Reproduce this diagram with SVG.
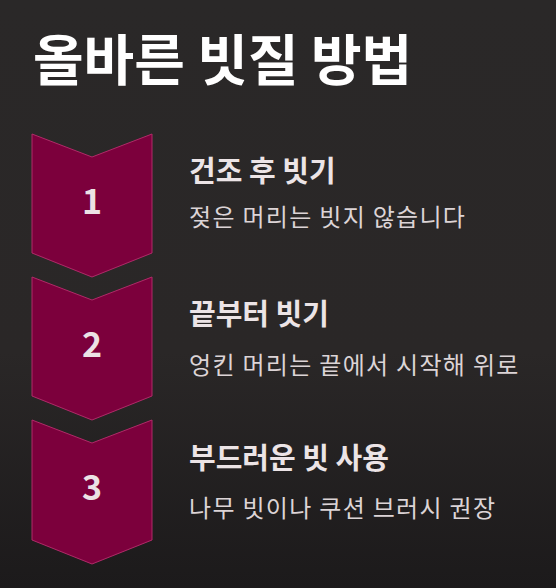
<svg xmlns="http://www.w3.org/2000/svg" width="556" height="588" viewBox="0 0 556 588">
<defs>
<linearGradient id="bg" x1="0" y1="0" x2="0" y2="1">
<stop offset="0" stop-color="#2a2828"/>
<stop offset="0.6" stop-color="#2a2727"/>
<stop offset="1" stop-color="#1c1a1b"/>
</linearGradient>
<style>
.chev{fill:#7c003c;stroke:#b02a68;stroke-width:1}
.num{font-family:"Noto Sans CJK KR","Noto Sans",sans-serif;font-weight:bold;font-size:34px;fill:#ece2e5;text-anchor:middle}
.title{font-family:"Noto Sans CJK KR",sans-serif;font-weight:bold;font-size:55px;fill:#ffffff}
.head{font-family:"Noto Sans CJK KR",sans-serif;font-weight:bold;font-size:29px;fill:#ece4e6}
.sub{font-family:"Noto Sans CJK KR",sans-serif;font-size:24px;letter-spacing:1.3px;fill:#dcd4d6}
</style>
</defs>
<rect width="556" height="588" fill="url(#bg)"/>
<text class="title" x="33" y="80">올바른 빗질 방법</text>
<g id="connectors"></g>
<g id="step1">
<polygon class="chev" points="32,134 92,157 152,134 152,253 92,277 32,253"/>
<text class="num" x="92" y="214">1</text>
<text class="head" x="189" y="182">건조 후 빗기</text>
<text class="sub" x="189" y="226">젖은 머리는 빗지 않습니다</text>
</g>
<g id="step2">
<polygon class="chev" points="32,277 92,300 152,277 152,396 92,420 32,396"/>
<text class="num" x="92" y="357">2</text>
<text class="head" x="189" y="325">끝부터 빗기</text>
<text class="sub" x="189" y="374">엉킨 머리는 끝에서 시작해 위로</text>
</g>
<g id="step3">
<polygon class="chev" points="32,420 92,443 152,420 152,540 92,564 32,540"/>
<text class="num" x="92" y="500">3</text>
<text class="head" x="189" y="469">부드러운 빗 사용</text>
<text class="sub" x="189" y="517">나무 빗이나 쿠션 브러시 권장</text>
</g>
</svg>
